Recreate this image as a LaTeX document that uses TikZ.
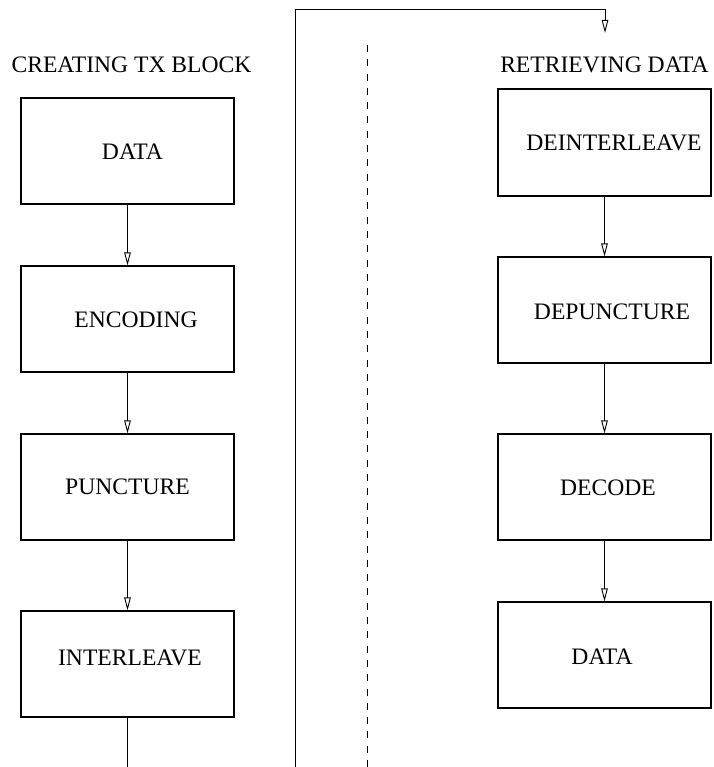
\documentclass[tikz,border=0pt]{standalone}
\usepackage{fontspec}
\setmainfont{Liberation Serif}
\usetikzlibrary{arrows.meta}
\begin{document}
\begin{tikzpicture}[x=1pt, y=-1pt,
  blk/.style={draw, line width=1.1pt, minimum width=213pt, minimum height=106pt, inner sep=0pt},
  lbl/.style={inner sep=0pt, font=\fontsize{23.6}{28}\selectfont},
  flow/.style={line width=1pt, -{Triangle[open, length=13pt, width=6.5pt, line width=0.9pt]}},
  wire/.style={line width=1pt},
  divider/.style={line width=1pt, dash pattern=on 7pt off 7.3pt}]
\useasboundingbox (0,0) rectangle (713,767);

% transmit chain
\node[blk] (enc1) at (127.5,151) {};
\node[blk] (enc2) at (127.5,319) {};
\node[blk] (enc3) at (127.5,487) {};
\node[blk] (enc4) at (127.5,664) {};
\node[lbl] (t1) at (132.5,152) {DATA};
\node[lbl] (t2) at (136,320) {ENCODING};
\node[lbl] (t3) at (127.5,487) {PUNCTURE};
\node[lbl] (t4) at (130,658) {INTERLEAVE};
\node[lbl] (hl) at (131.5,65) {CREATING TX BLOCK};

% receive chain
\node[blk, minimum height=107pt] (dec1) at (604.5,142.5) {};
\node[blk] (dec2) at (604.5,310) {};
\node[blk] (dec3) at (604.5,487) {};
\node[blk] (dec4) at (604.5,655) {};
\node[lbl] (r1) at (614,143) {DEINTERLEAVE};
\node[lbl] (r2) at (612,312) {DEPUNCTURE};
\node[lbl] (r3) at (608,488) {DECODE};
\node[lbl] (r4) at (602,657) {DATA};
\node[lbl] (hr) at (604.5,64.5) {RETRIEVING DATA};

% arrows between blocks
\draw[flow] (enc1.south) -- (enc2.north);
\draw[flow] (enc2.south) -- (enc3.north);
\draw[flow] (enc3.south) -- (enc4.north);
\draw[flow] (dec1.south) -- (dec2.north);
\draw[flow] (dec2.south) -- (dec3.north);
\draw[flow] (dec3.south) -- (dec4.north);

% link from the bottom edge back to the receive side
\coordinate (outL) at (127.5,767);
\coordinate (loopB) at (295,767);
\coordinate (loopT) at (295,10);
\coordinate (inR) at (605,33);
\draw[wire] (enc4.south) -- (outL);
\draw[flow] (loopB) -- (loopT) -| (inR);

% channel divider
\coordinate (divT) at (367,45);
\coordinate (divB) at (367,767);
\draw[divider] (divT) -- (divB);
\end{tikzpicture}
\end{document}
